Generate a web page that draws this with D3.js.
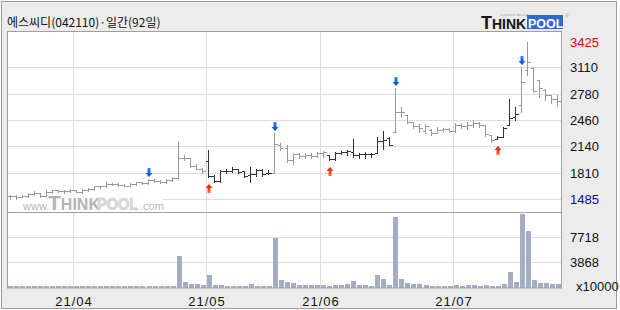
<!DOCTYPE html>
<html>
<head>
<meta charset="utf-8">
<script src="https://cdn.jsdelivr.net/npm/d3@7"></script>
<style>
  body { margin: 0; background: #fff; }
  svg text { font-family: "Liberation Sans Narrow", "Liberation Sans", Arial, sans-serif; }
</style>
</head>
<body>
<svg id="chart"></svg>
<script>
// trading days (92)
const dates = [
  '2021-03-17','2021-03-18','2021-03-19','2021-03-22','2021-03-23','2021-03-24','2021-03-25','2021-03-26','2021-03-29','2021-03-30','2021-03-31',
  '2021-04-01','2021-04-02','2021-04-05','2021-04-06','2021-04-07','2021-04-08','2021-04-09','2021-04-12','2021-04-13','2021-04-14','2021-04-15',
  '2021-04-16','2021-04-19','2021-04-20','2021-04-21','2021-04-22','2021-04-23','2021-04-26','2021-04-27','2021-04-28','2021-04-29','2021-04-30',
  '2021-05-03','2021-05-04','2021-05-06','2021-05-07','2021-05-10','2021-05-11','2021-05-12','2021-05-13','2021-05-14','2021-05-17','2021-05-18',
  '2021-05-20','2021-05-21','2021-05-24','2021-05-25','2021-05-26','2021-05-27','2021-05-28','2021-05-31',
  '2021-06-01','2021-06-02','2021-06-03','2021-06-04','2021-06-07','2021-06-08','2021-06-09','2021-06-10','2021-06-11','2021-06-14','2021-06-15',
  '2021-06-16','2021-06-17','2021-06-18','2021-06-21','2021-06-22','2021-06-23','2021-06-24','2021-06-25','2021-06-28','2021-06-29','2021-06-30',
  '2021-07-01','2021-07-02','2021-07-05','2021-07-06','2021-07-07','2021-07-08','2021-07-09','2021-07-12','2021-07-13','2021-07-14','2021-07-15',
  '2021-07-16','2021-07-19','2021-07-20','2021-07-21','2021-07-22','2021-07-23','2021-07-26'
];

const open = [
  1520,1525,1515,1520,1545,1560,1525,1575,1590,1580,
  1585,1595,1575,1590,1610,1640,1640,1675,1670,1660,
  1650,1670,1690,1680,1725,1710,1690,1720,1745,1990,
  1985,1890,1860,1950,1770,1710,1835,1830,1860,1825,
  1775,1790,1840,1800,1805,2150,2110,1960,2035,2020,
  2030,2010,2050,2030,1980,2050,2060,2060,2030,2040,
  2040,2055,2200,2235,2310,2560,2520,2430,2380,2320,
  2330,2300,2330,2350,2320,2400,2380,2395,2420,2395,
  2270,2230,2250,2400,2500,2640,3080,3100,2945,2830,
  2770,2720
];
const high = [
  1530,1535,1530,1560,1585,1565,1590,1600,1600,1600,
  1605,1600,1610,1625,1650,1650,1690,1685,1680,1670,
  1680,1700,1700,1735,1735,1720,1730,1750,2185,2030,
  1995,1910,1870,2090,1775,1845,1850,1880,1860,1830,
  1880,1850,1855,1840,2300,2180,2150,2050,2050,2050,
  2050,2065,2075,2030,2065,2080,2090,2225,2050,2060,
  2055,2250,2320,2250,2855,2620,2525,2430,2410,2410,
  2350,2370,2360,2360,2420,2420,2430,2460,2430,2400,
  2275,2265,2375,2715,2620,3115,3425,3115,2955,2840,
  2770,2770
];
const low = [
  1500,1485,1505,1515,1530,1515,1520,1560,1570,1565,
  1570,1570,1565,1585,1600,1625,1635,1660,1650,1640,
  1645,1660,1665,1675,1700,1680,1685,1710,1740,1965,
  1880,1850,1800,1760,1700,1700,1800,1820,1810,1760,
  1690,1770,1765,1790,1800,2090,1940,1910,1990,1985,
  1990,2000,2000,1965,1965,2040,2030,2000,1990,1995,
  2005,2050,2100,2145,2305,2500,2420,2360,2310,2300,
  2275,2295,2310,2310,2310,2360,2350,2370,2370,2260,
  2185,2220,2245,2395,2460,2555,3015,2800,2745,2700,
  2670,2630
];
const close = [
  1525,1515,1520,1545,1560,1525,1575,1590,1580,1585,
  1595,1575,1590,1610,1640,1640,1675,1670,1660,1650,
  1670,1690,1680,1725,1710,1690,1720,1745,1990,1985,
  1890,1860,1830,1765,1710,1835,1830,1860,1820,1770,
  1790,1840,1790,1800,2160,2110,1965,2035,2020,2030,
  2010,2050,2060,1980,2050,2060,2075,2030,2040,2040,
  2045,2200,2210,2150,2560,2555,2430,2380,2360,2390,
  2300,2330,2350,2320,2400,2380,2395,2420,2400,2280,
  2210,2245,2360,2480,2530,2920,3170,2810,2850,2760,
  2720,2690
];
// volume, x10000 shares
const volume = [
  250,230,270,240,300,260,220,280,250,240,
  260,230,250,270,240,260,280,250,230,260,
  250,240,270,250,260,240,250,270,4880,890,
  490,490,380,1920,380,380,230,230,230,230,
  540,230,230,230,7650,1150,845,690,380,380,
  380,380,380,230,380,380,540,1000,380,380,
  230,1920,1300,380,10820,1300,690,490,590,380,
  280,280,280,280,380,280,380,380,280,430,
  280,280,590,2430,890,11280,8720,1150,690,690,
  590,540
];

const buyDays = ['2021-05-03', '2021-06-02', '2021-07-12'];
const sellDays = ['2021-04-19', '2021-05-20', '2021-06-17', '2021-07-16'];

const priceTicks = [3425, 3110, 2780, 2460, 2140, 1810, 1485];
const volTicks = [7718, 3868];
const title = '에스씨디(042110)·일간(92일)';

const width = 620, height = 310;
const svg = d3.select('#chart').attr('width', width).attr('height', height);

const x = d3.scaleBand().domain(dates).range([7, 561]);
const y = d3.scaleLinear().domain([1485, 3425]).range([199, 41.5]);
const yv = d3.scaleLinear().domain([0, 7718]).range([287.5, 237.3]);

const bw = x.bandwidth();
const cx = d => Math.floor(x(d) + bw / 2) + 0.5;
const py = v => Math.round(y(v)) + 0.5;

// frame and panels
svg.append('rect').attr('x', 1.5).attr('y', 1.5).attr('width', 615).attr('height', 307)
  .attr('fill', '#ececec').attr('stroke', '#9c9c9c');
svg.append('rect').attr('x', 7.5).attr('y', 31.5).attr('width', 554).attr('height', 256.5).attr('fill', '#fff');

// grid
svg.append('g').selectAll('line').data(priceTicks.slice(1)).join('line')
  .attr('x1', 8).attr('x2', 561).attr('y1', d => py(d)).attr('y2', d => py(d))
  .attr('stroke', '#dcdcdc');
svg.append('g').selectAll('line').data(volTicks).join('line')
  .attr('x1', 8).attr('x2', 561)
  .attr('y1', d => Math.round(yv(d)) + 0.5).attr('y2', d => Math.round(yv(d)) + 0.5)
  .attr('stroke', '#dcdcdc');

const monthStarts = dates.filter((d, i) => i > 0 && d.slice(5, 7) !== dates[i - 1].slice(5, 7));
svg.append('g').selectAll('line').data(monthStarts).join('line')
  .attr('x1', d => Math.round(x(d)) + 0.5).attr('x2', d => Math.round(x(d)) + 0.5)
  .attr('y1', 32).attr('y2', 288)
  .attr('stroke', '#dcdcdc');

// watermark
const wm = svg.append('g');
wm.append('rect').attr('x', 8).attr('y', 192).attr('width', 155).attr('height', 20).attr('fill', '#fff');
wm.append('text').attr('x', 23).attr('y', 210).attr('font-size', 11).attr('fill', '#b8b8b8')
  .style('font-family', 'Liberation Sans, Arial, sans-serif').text('www.');
const wmt = wm.append('text').attr('x', 48).attr('y', 210).attr('fill', '#b4b4b4')
  .attr('font-weight', 'bold').style('font-family', 'Liberation Sans, Arial, sans-serif');
wmt.append('tspan').attr('font-size', 21).text('T');
wmt.append('tspan').attr('font-size', 16).text('HINK');
wm.append('text').attr('x', 97).attr('y', 210).attr('font-size', 16).attr('font-weight', 'bold')
  .attr('textLength', 41).attr('lengthAdjust', 'spacingAndGlyphs')
  .attr('fill', '#dedede').attr('stroke', '#c6c6c6').attr('stroke-width', 0.6)
  .style('font-family', 'Liberation Sans, Arial, sans-serif').text('POOL');
wm.append('text').attr('x', 140).attr('y', 210).attr('font-size', 11).attr('fill', '#b8b8b8')
  .style('font-family', 'Liberation Sans, Arial, sans-serif').text('.com');

// holding period colouring
let holding = false;
const colors = dates.map(d => {
  if (buyDays.includes(d)) holding = true;
  if (sellDays.includes(d)) holding = false;
  return holding ? '#333' : '#999';
});

// price bars
const bars = svg.append('g').selectAll('g').data(dates).join('g')
  .attr('stroke', (d, i) => colors[i]).attr('shape-rendering', 'crispEdges');
bars.append('line')
  .attr('x1', d => cx(d)).attr('x2', d => cx(d))
  .attr('y1', (d, i) => Math.round(y(high[i]))).attr('y2', (d, i) => Math.round(y(low[i])) + 1);
bars.append('line')
  .attr('x1', d => cx(d) - 3).attr('x2', d => cx(d))
  .attr('y1', (d, i) => py(open[i])).attr('y2', (d, i) => py(open[i]));
bars.append('line')
  .attr('x1', d => cx(d)).attr('x2', d => cx(d) + 3)
  .attr('y1', (d, i) => py(close[i])).attr('y2', (d, i) => py(close[i]));

// volume bars
svg.append('g').selectAll('rect').data(dates).join('rect')
  .attr('x', d => Math.round(x(d)) + 1)
  .attr('width', 5)
  .attr('y', (d, i) => Math.round(yv(volume[i])))
  .attr('height', (d, i) => 288 - Math.round(yv(volume[i])))
  .attr('fill', '#a3adc4');

// signal arrows
const defs = svg.append('defs');
const gBlue = defs.append('linearGradient').attr('id', 'gBlue').attr('x1', 0).attr('y1', 0).attr('x2', 0).attr('y2', 1);
gBlue.append('stop').attr('offset', '0%').attr('stop-color', '#2f86ff');
gBlue.append('stop').attr('offset', '100%').attr('stop-color', '#0a48c8');
const gRed = defs.append('linearGradient').attr('id', 'gRed').attr('x1', 0).attr('y1', 0).attr('x2', 0).attr('y2', 1);
gRed.append('stop').attr('offset', '0%').attr('stop-color', '#cf2208');
gRed.append('stop').attr('offset', '100%').attr('stop-color', '#ff6a2a');

svg.append('g').selectAll('path').data(sellDays).join('path')
  .attr('d', d => {
    const c = cx(d) + 0.5, t = Math.round(y(high[dates.indexOf(d)])) - 2;
    return `M${c - 1.5},${t - 9}H${c + 1.5}V${t - 4}H${c + 3.5}L${c},${t}L${c - 3.5},${t - 4}H${c - 1.5}Z`;
  })
  .attr('fill', 'url(#gBlue)');
svg.append('g').selectAll('path').data(buyDays).join('path')
  .attr('d', d => {
    const c = cx(d) + 0.5, t = Math.round(y(low[dates.indexOf(d)])) + 7;
    return `M${c},${t}L${c + 3.5},${t + 4}H${c + 1.5}V${t + 9}H${c - 1.5}V${t + 4}H${c - 3.5}Z`;
  })
  .attr('fill', 'url(#gRed)');

// panel borders
svg.append('rect').attr('x', 7.5).attr('y', 31.5).attr('width', 554).attr('height', 181)
  .attr('fill', 'none').attr('stroke', '#a0a0a0');
svg.append('rect').attr('x', 7.5).attr('y', 212.5).attr('width', 554).attr('height', 75.5)
  .attr('fill', 'none').attr('stroke', '#a0a0a0');

// right labels
svg.append('g').selectAll('text').data(priceTicks).join('text')
  .attr('x', 570).attr('y', d => y(d) + 5)
  .attr('font-size', 13)
  .attr('fill', (d, i) => i === 0 ? '#f00000' : (i === priceTicks.length - 1 ? '#0000d8' : '#111'))
  .text(d => d);
svg.append('g').selectAll('text').data(volTicks).join('text')
  .attr('x', 570).attr('y', d => yv(d) + 5)
  .attr('font-size', 13).attr('fill', '#111')
  .text(d => d);
svg.append('text').attr('x', 576).attr('y', 290.5).attr('font-size', 13).attr('fill', '#111').text('x10000');

// month labels
svg.append('g').selectAll('text').data(monthStarts).join('text')
  .attr('x', d => Math.round(x(d)) + 1).attr('y', 305.5)
  .attr('text-anchor', 'middle').attr('font-size', 13).attr('letter-spacing', 1)
  .attr('fill', '#111')
  .text(d => d.slice(2, 4) + '/' + d.slice(5, 7));

// title
svg.append('text').attr('x', 7).attr('y', 27)
  .attr('font-size', 12).attr('fill', '#111')
  .style('font-family', '"Noto Sans CJK KR", sans-serif')
  .text(title);

// logo
const logo = svg.append('g').style('font-family', 'Liberation Sans, Arial, sans-serif').attr('font-weight', 'bold');
logo.append('text').attr('x', 500).attr('y', 16).attr('font-size', 4).attr('font-weight', 'normal')
  .attr('fill', '#aaa').text('research design');
const lt = logo.append('text').attr('x', 481).attr('y', 28.5).attr('fill', '#151515');
lt.append('tspan').attr('font-size', 18).text('T');
lt.append('tspan').attr('font-size', 14).text('HINK');
logo.append('rect').attr('x', 527).attr('y', 15).attr('width', 36).attr('height', 14).attr('fill', '#3566d4');
const lp = logo.append('text').attr('x', 528).attr('y', 28).attr('fill', '#fff');
lp.append('tspan').attr('font-size', 12.5).text('POOL');
lp.append('tspan').attr('font-size', 5).attr('font-weight', 'normal').attr('fill', '#999')
  .attr('dx', 1.5).attr('dy', -10).text('®');
</script>
</body>
</html>
